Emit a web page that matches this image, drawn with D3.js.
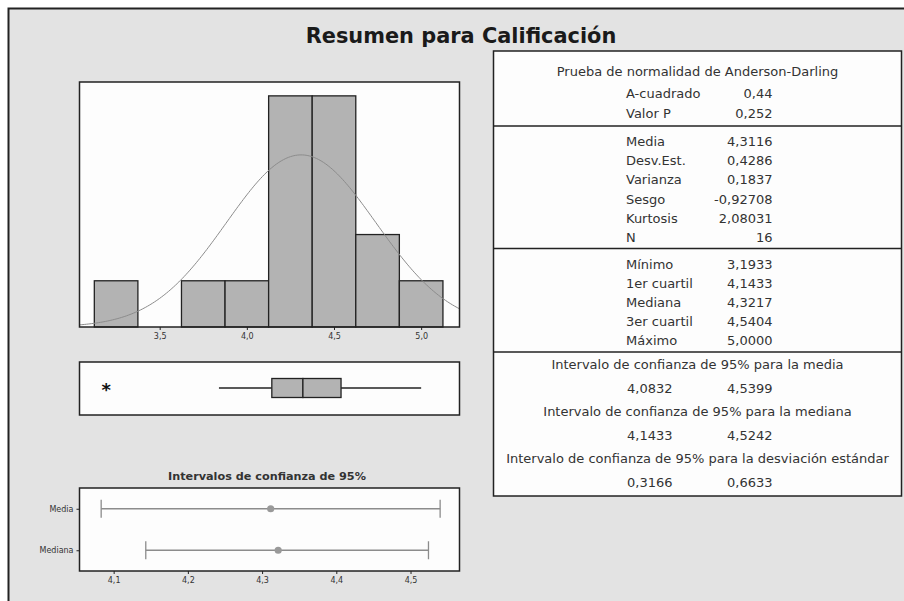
<!DOCTYPE html>
<html>
<head>
<meta charset="utf-8">
<script src="https://cdn.jsdelivr.net/npm/d3@7"></script>
<style>
  body { margin: 0; background: #fff; }
  svg { display: block; font-family: "DejaVu Sans", sans-serif; }
</style>
</head>
<body>
<svg id="chart" width="904" height="601"></svg>
<script>
// histogram data (bin centres, counts), bin width 0.25
const binCenters = [3.25, 3.5, 3.75, 4.0, 4.25, 4.5, 4.75, 5.0];
const binCounts = [1, 0, 1, 1, 5, 5, 2, 1];
const histTicks = [3.5, 4.0, 4.5, 5.0];

// fitted normal
const fitMean = 4.3116;
const fitSd = 0.4286;
const sampleN = 16;

// boxplot: lower whisker, Q1, median, Q3, upper whisker
const boxValues = [3.84, 4.1433, 4.3217, 4.5404, 5.0];
const outliers = [3.1933];

// confidence intervals plot
const ciLabels = ["Media", "Mediana"];
const ciCenters = [4.3116, 4.3217];
const ciLows = [4.0832, 4.1433];
const ciHighs = [4.5399, 4.5242];
const ciTicks = [4.1, 4.2, 4.3, 4.4, 4.5];

// stats table
const adLabels = ["A-cuadrado", "Valor P"];
const adValues = ["0,44", "0,252"];
const momentLabels = ["Media", "Desv.Est.", "Varianza", "Sesgo", "Kurtosis", "N"];
const momentValues = ["4,3116", "0,4286", "0,1837", "-0,92708", "2,08031", "16"];
const quantLabels = ["Mínimo", "1er cuartil", "Mediana", "3er cuartil", "Máximo"];
const quantValues = ["3,1933", "4,1433", "4,3217", "4,5404", "5,0000"];
const ciTitles = [
    "Intervalo de confianza de 95% para la media",
    "Intervalo de confianza de 95% para la mediana",
    "Intervalo de confianza de 95% para la desviación estándar"
];
const ciTableLows = ["4,0832", "4,1433", "0,3166"];
const ciTableHighs = ["4,5399", "4,5242", "0,6633"];

const svg = d3.select("#chart");
const ink = "#222";
const textCol = "#333";
const barFill = "#b3b3b3";
const es = d3.formatLocale({decimal: ",", thousands: ".", grouping: [3], currency: ["", "€"]});
const fmt1 = es.format(".1f");

// outer frame
svg.append("rect")
    .attr("x", 8.5).attr("y", 8.5)
    .attr("width", 920).attr("height", 620)
    .attr("fill", "#e3e3e3").attr("stroke", ink).attr("stroke-width", 2);

// title, fitted to the reference width
const title = svg.append("text")
    .attr("x", 461).attr("y", 43)
    .attr("text-anchor", "middle")
    .attr("font-weight", "bold")
    .attr("font-size", 20)
    .attr("fill", "#1a1a1a")
    .text("Resumen para Calificación");
title.attr("font-size", 20 * 311 / title.node().getComputedTextLength());

// ---- histogram ----
const px0 = 79.5, px1 = 459.5;
const x = d3.scaleLinear().domain([3.04, 5.22]).range([px0, px1]);
const y = d3.scaleLinear().domain([0, 5.3]).range([327, 82]);
const bw = 0.25;

svg.append("rect")
    .attr("x", px0).attr("y", y.range()[1])
    .attr("width", px1 - px0).attr("height", y.range()[0] - y.range()[1])
    .attr("fill", "#fdfdfd");

const bins = binCenters.map((c, i) => ({c: c, n: binCounts[i]})).filter(d => d.n > 0);
svg.append("g").selectAll("rect")
    .data(bins)
    .join("rect")
    .attr("x", d => x(d.c - bw / 2))
    .attr("y", d => y(d.n))
    .attr("width", d => x(d.c + bw / 2) - x(d.c - bw / 2))
    .attr("height", d => y(0) - y(d.n))
    .attr("fill", barFill)
    .attr("stroke", ink)
    .attr("stroke-width", 1.3);

// normal curve scaled to counts
const scaleK = sampleN * bw / (fitSd * Math.sqrt(2 * Math.PI));
const curvePts = d3.range(x.domain()[0], x.domain()[1] + 0.001, 0.01)
    .map(v => [v, scaleK * Math.exp(-0.5 * Math.pow((v - fitMean) / fitSd, 2))]);
svg.append("path")
    .datum(curvePts)
    .attr("d", d3.line().x(d => x(d[0])).y(d => y(d[1])))
    .attr("fill", "none")
    .attr("stroke", "#8c8c8c")
    .attr("stroke-width", 1);

svg.append("rect")
    .attr("x", px0).attr("y", y.range()[1])
    .attr("width", px1 - px0).attr("height", y.range()[0] - y.range()[1])
    .attr("fill", "none").attr("stroke", ink).attr("stroke-width", 1.5);

const hAxis = svg.append("g")
    .attr("transform", `translate(0,${y(0)})`)
    .call(d3.axisBottom(x).tickValues(histTicks).tickFormat(fmt1).tickSize(3).tickPadding(3));
hAxis.select(".domain").remove();
hAxis.selectAll("line").attr("stroke", ink);
hAxis.selectAll("text").attr("font-size", 8).attr("fill", textCol).attr("font-family", "DejaVu Sans");

// ---- boxplot ----
const by0 = 362, by1 = 415, bmid = 388, bh = 19;
svg.append("rect")
    .attr("x", px0).attr("y", by0)
    .attr("width", px1 - px0).attr("height", by1 - by0)
    .attr("fill", "#fdfdfd").attr("stroke", ink).attr("stroke-width", 1.5);

const bp = svg.append("g");
bp.selectAll("line.whisker")
    .data([[boxValues[0], boxValues[1]], [boxValues[3], boxValues[4]]])
    .join("line")
    .attr("x1", d => x(d[0])).attr("x2", d => x(d[1]))
    .attr("y1", bmid).attr("y2", bmid)
    .attr("stroke", ink).attr("stroke-width", 1.3);
bp.selectAll("rect")
    .data([[boxValues[1], boxValues[2]], [boxValues[2], boxValues[3]]])
    .join("rect")
    .attr("x", d => x(d[0])).attr("width", d => x(d[1]) - x(d[0]))
    .attr("y", bmid - bh / 2).attr("height", bh)
    .attr("fill", barFill).attr("stroke", ink).attr("stroke-width", 1.3);
bp.selectAll("text")
    .data(outliers)
    .join("text")
    .attr("x", d => x(d)).attr("y", bmid + 8)
    .attr("text-anchor", "middle")
    .attr("font-size", 18).attr("font-weight", "bold").attr("fill", "#111")
    .text("*");

// ---- confidence interval plot ----
const cy0 = 488, cy1 = 571;
const cx = d3.scaleLinear().domain([4.054, 4.566]).range([px0, px1]);
const cyS = d3.scalePoint().domain(ciLabels).range([cy0, cy1]).padding(0.5);

const ciTitle = svg.append("text")
    .attr("x", 267).attr("y", 480)
    .attr("text-anchor", "middle")
    .attr("font-size", 10).attr("font-weight", "bold").attr("fill", textCol)
    .text("Intervalos de confianza de 95%");
ciTitle.attr("font-size", 10 * 198 / ciTitle.node().getComputedTextLength());

svg.append("rect")
    .attr("x", px0).attr("y", cy0)
    .attr("width", px1 - px0).attr("height", cy1 - cy0)
    .attr("fill", "#fdfdfd").attr("stroke", ink).attr("stroke-width", 1.5);

const ciData = ciLabels.map((l, i) => ({l: l, c: ciCenters[i], lo: ciLows[i], hi: ciHighs[i]}));
const ciG = svg.append("g").selectAll("g").data(ciData).join("g");
ciG.append("line")
    .attr("x1", d => cx(d.lo)).attr("x2", d => cx(d.hi))
    .attr("y1", d => cyS(d.l)).attr("y2", d => cyS(d.l))
    .attr("stroke", "#8c8c8c").attr("stroke-width", 1.3);
ciG.selectAll("line.cap")
    .data(d => [[d.lo, d.l], [d.hi, d.l]])
    .join("line")
    .attr("x1", d => cx(d[0])).attr("x2", d => cx(d[0]))
    .attr("y1", d => cyS(d[1]) - 9).attr("y2", d => cyS(d[1]) + 9)
    .attr("stroke", "#8c8c8c").attr("stroke-width", 1.3);
ciG.append("circle")
    .attr("cx", d => cx(d.c)).attr("cy", d => cyS(d.l))
    .attr("r", 3.6).attr("fill", "#999");

const cAxis = svg.append("g")
    .attr("transform", `translate(0,${cy1})`)
    .call(d3.axisBottom(cx).tickValues(ciTicks).tickFormat(fmt1).tickSize(3).tickPadding(3));
const lAxis = svg.append("g")
    .attr("transform", `translate(${px0},0)`)
    .call(d3.axisLeft(cyS).tickSize(3).tickPadding(3));
[cAxis, lAxis].forEach(a => {
    a.select(".domain").remove();
    a.selectAll("line").attr("stroke", ink);
    a.selectAll("text").attr("font-size", 8).attr("fill", textCol).attr("font-family", "DejaVu Sans");
});

// ---- statistics table ----
const tx0 = 493.5, tx1 = 901.5, tcx = (tx0 + tx1) / 2;
svg.append("rect")
    .attr("x", tx0).attr("y", 51)
    .attr("width", tx1 - tx0).attr("height", 445)
    .attr("fill", "#fdfdfd").attr("stroke", ink).attr("stroke-width", 1.5);
svg.append("g").selectAll("line")
    .data([126, 248.5, 352])
    .join("line")
    .attr("x1", tx0).attr("x2", tx1)
    .attr("y1", d => d).attr("y2", d => d)
    .attr("stroke", ink).attr("stroke-width", 1.5);

const tbl = svg.append("g").attr("fill", textCol).attr("font-size", 11);
// fit table font to the widest line of the reference
const probe = tbl.append("text").text(ciTitles[2]);
const tfs = 11 * 383 / probe.node().getComputedTextLength();
probe.remove();
tbl.attr("font-size", tfs);

const labX = 626, valX = 772.5, loX = 672.5;
function rows(labels, values, y0, step) {
    labels.forEach((l, i) => {
        tbl.append("text").attr("x", labX).attr("y", y0 + i * step + 4).text(l);
        tbl.append("text").attr("x", valX).attr("y", y0 + i * step + 4)
            .attr("text-anchor", "end").text(values[i]);
    });
}
tbl.append("text").attr("x", tcx).attr("y", 75.5).attr("text-anchor", "middle")
    .text("Prueba de normalidad de Anderson-Darling");
rows(adLabels, adValues, 93.5, 20.5);
rows(momentLabels, momentValues, 141.5, 19.35);
rows(quantLabels, quantValues, 265, 19);

const ciRowY = [365, 389, 412, 436, 459, 483];
ciTitles.forEach((t, i) => {
    tbl.append("text").attr("x", tcx).attr("y", ciRowY[2 * i] + 4)
        .attr("text-anchor", "middle").text(t);
    tbl.append("text").attr("x", loX).attr("y", ciRowY[2 * i + 1] + 4)
        .attr("text-anchor", "end").text(ciTableLows[i]);
    tbl.append("text").attr("x", valX).attr("y", ciRowY[2 * i + 1] + 4)
        .attr("text-anchor", "end").text(ciTableHighs[i]);
});
</script>
</body>
</html>
